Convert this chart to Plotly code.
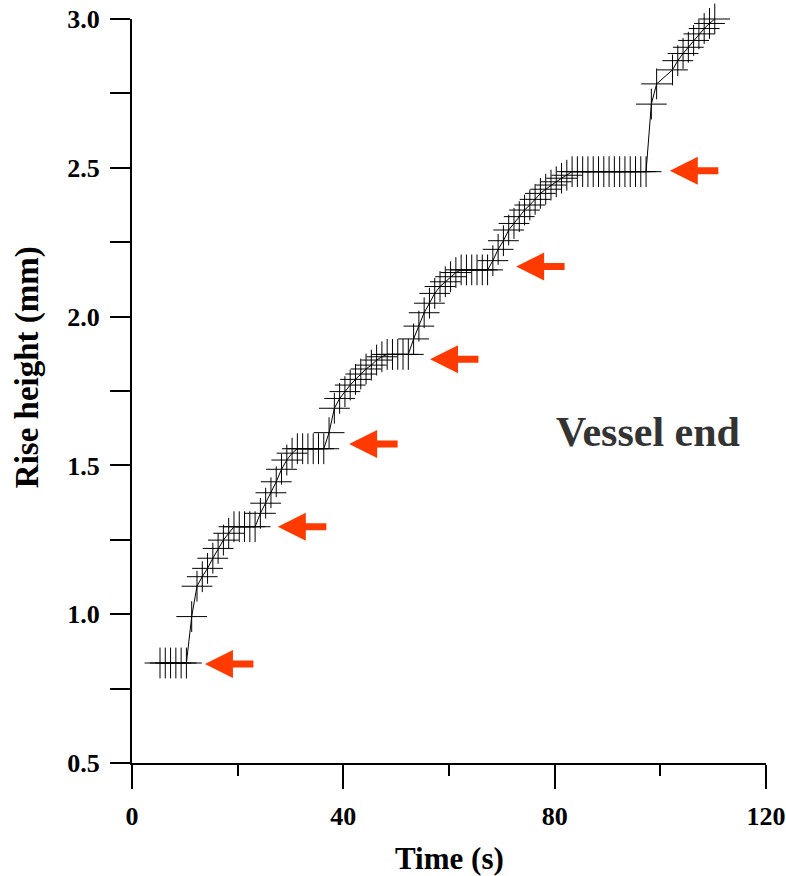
import plotly.graph_objects as go

# ---- data ----
time_s = [5.3, 6.3, 7.3, 8.3, 9.3, 10.3, 11.3, 12.3, 13.3, 14.3, 15.3, 16.3, 17.3, 18.3,
          19.3, 20.3, 21.3, 22.3, 23.3, 24.3, 25.3, 26.3, 27.3, 28.3, 29.3, 30.3,
          31.3, 32.3, 33.3, 34.3, 35.3, 36.3, 37.3, 38.3, 39.3, 40.3, 41.3, 42.3,
          43.3, 44.3, 45.3, 46.3, 47.3, 48.3, 49.3, 50.3, 51.3, 52.3, 53.3, 54.3,
          55.3, 56.3, 57.3, 58.3, 59.3, 60.3, 61.3, 62.3, 63.3, 64.3, 65.3, 66.3,
          67.3, 68.3, 69.3, 70.3, 71.3, 72.3, 73.3, 74.3, 75.3, 76.3, 77.3, 78.3,
          79.3, 80.3, 81.3, 82.3, 83.3, 84.3, 85.3, 86.3, 87.3, 88.3, 89.3, 90.3,
          91.3, 92.3, 93.3, 94.3, 95.3, 96.3, 97.3, 98.3, 99.3, 102.3, 103.3,
          104.3, 105.3, 106.3, 107.3, 108.3, 109.3, 110.3]
rise_mm = [0.836, 0.836, 0.836, 0.836, 0.836, 0.836, 0.992, 1.094, 1.126, 1.154, 1.188,
           1.221, 1.249, 1.272, 1.294, 1.294, 1.294, 1.294, 1.294, 1.339, 1.373, 1.408,
           1.445, 1.487, 1.518, 1.541, 1.556, 1.556, 1.556, 1.556, 1.556, 1.556, 1.610,
           1.692, 1.725, 1.748, 1.770, 1.789, 1.807, 1.824, 1.837, 1.854, 1.865, 1.873,
           1.873, 1.873, 1.873, 1.873, 1.925, 1.968, 2.013, 2.045, 2.078, 2.101, 2.117,
           2.134, 2.148, 2.157, 2.157, 2.157, 2.157, 2.157, 2.157, 2.188, 2.226, 2.255,
           2.291, 2.313, 2.336, 2.358, 2.375, 2.394, 2.414, 2.428, 2.442, 2.453, 2.465,
           2.475, 2.487, 2.487, 2.487, 2.487, 2.487, 2.487, 2.487, 2.487, 2.487, 2.487,
           2.487, 2.487, 2.487, 2.487, 2.487, 2.714, 2.782, 2.829, 2.860, 2.884, 2.905,
           2.928, 2.950, 2.968, 2.985, 3.000]

# arrow tips (time, height) pointing at the plateaus
arrow_t = [13.8, 27.6, 41.1, 56.4, 72.7, 101.8]
arrow_h = [0.833, 1.294, 1.572, 1.857, 2.168, 2.490]

x_ticks = [0, 40, 80, 120]
y_ticks = [0.5, 1.0, 1.5, 2.0, 2.5, 3.0]
y_ticklabels = ["0.5", "1.0", "1.5", "2.0", "2.5", "3.0"]

FONT = "Liberation Serif"
ARROW_COLOR = "#ff3a00"

fig = go.Figure()
fig.add_trace(go.Scatter(
    x=time_s, y=rise_mm, mode="lines+markers",
    line=dict(color="black", width=1),
    marker=dict(symbol="cross-thin", size=22, line=dict(color="black", width=1)),
    showlegend=False, cliponaxis=False,
))

annotations = []
for t, h in zip(arrow_t, arrow_h):
    annotations.append(dict(
        x=t, y=h, xref="x", yref="y", text="", showarrow=True,
        ax=50, ay=0, arrowhead=2, arrowsize=0.8, arrowwidth=7,
        arrowcolor=ARROW_COLOR,
    ))

annotations.append(dict(
    text="Vessel end", xref="paper", yref="paper", x=0.814, y=0.445,
    xanchor="center", yanchor="middle", showarrow=False,
    font=dict(family=FONT, size=42, color="#333333", weight="bold"),
))
annotations.append(dict(
    text="Time (s)", xref="paper", yref="paper", x=0.5, y=-0.1277,
    xanchor="center", yanchor="middle", showarrow=False,
    font=dict(family=FONT, size=31, color="black", weight="bold"),
))
annotations.append(dict(
    text="Rise height (mm)", xref="paper", yref="paper", x=0, y=0.532,
    xshift=-105, textangle=-90,
    xanchor="center", yanchor="middle", showarrow=False,
    font=dict(family=FONT, size=33, color="black", weight="bold"),
))

fig.update_layout(
    width=786, height=876,
    margin=dict(l=132, r=20, t=19, b=113),
    paper_bgcolor="white", plot_bgcolor="white",
    annotations=annotations,
    xaxis=dict(
        range=[0, 120], tickvals=x_ticks, showgrid=False, zeroline=False,
        automargin=False, ticklabeloverflow="allow",
        showline=True, linecolor="black", linewidth=2,
        ticks="outside", ticklen=24, tickwidth=2, tickcolor="black",
        ticklabelstandoff=5,
        minor=dict(tickvals=[20, 60, 100], ticks="outside", ticklen=11,
                   tickwidth=2, tickcolor="black", showgrid=False),
        tickfont=dict(family=FONT, size=26, color="black", weight="bold"),
    ),
    yaxis=dict(
        range=[0.5, 3.0], tickvals=y_ticks, ticktext=y_ticklabels,
        showgrid=False, zeroline=False,
        automargin=False, ticklabeloverflow="allow",
        showline=True, linecolor="black", linewidth=2,
        ticks="outside", ticklen=20, tickwidth=2, tickcolor="black",
        ticklabelstandoff=5,
        minor=dict(tickvals=[0.75, 1.25, 1.75, 2.25, 2.75], ticks="outside",
                   ticklen=20, tickwidth=2, tickcolor="black", showgrid=False),
        tickfont=dict(family=FONT, size=26, color="black", weight="bold"),
    ),
)

# remove the default page margin so the figure fills the 786x876 window exactly
fig.write_html(
    "out.html",
    config={"displayModeBar": False},
    post_script="document.body.style.margin='0px';document.body.style.overflow='hidden';",
)
